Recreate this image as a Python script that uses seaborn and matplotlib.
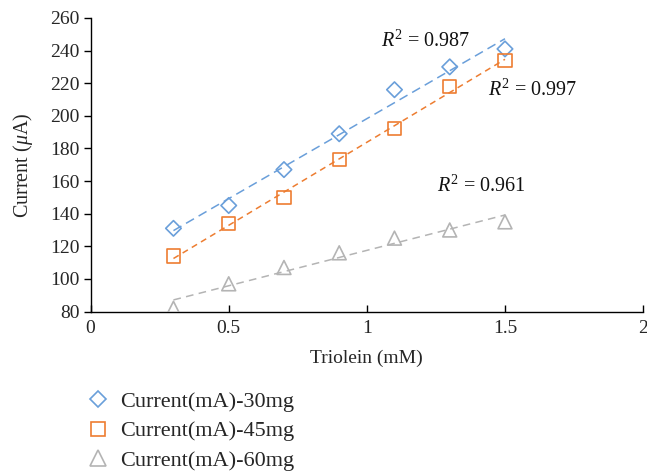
import matplotlib
matplotlib.use("Agg")
import matplotlib.pyplot as plt
from matplotlib.lines import Line2D
import seaborn as sns
import pandas as pd

triolein = [0.3, 0.5, 0.7, 0.9, 1.1, 1.3, 1.5]
current_30mg = [131, 145, 167, 189, 216, 230, 241]
current_45mg = [114, 134, 150, 173, 192, 218, 234]
current_60mg = [82, 97, 107, 116, 125, 130, 135]

labels = ["Current(mA)-30mg", "Current(mA)-45mg", "Current(mA)-60mg"]
r2_text = ["0.987", "0.997", "0.961"]
r2_pos = [(1.05, 246), (1.44, 216), (1.255, 157)]

colors = ["#6A9FDA", "#ED7D31", "#B4B4B4"]
markers = ["D", "s", "^"]
msizes = [62, 90, 100]
dashes = [(0, (6, 3.5)), (0, (4, 3)), (0, (5, 3.5))]

sns.set_style("ticks")
plt.rcParams["font.family"] = ["Liberation Serif", "DejaVu Serif"]
plt.rcParams["mathtext.fontset"] = "custom"
plt.rcParams["mathtext.rm"] = "Liberation Serif"
plt.rcParams["mathtext.it"] = "Liberation Serif:italic"

fig = plt.figure(figsize=(6.47, 4.72), dpi=100)
ax = fig.add_axes([0.140, 0.340, 0.854, 0.622])

series = [current_30mg, current_45mg, current_60mg]
for vals, lab, c, m, s, d in zip(series, labels, colors, markers, msizes, dashes):
    df = pd.DataFrame({"x": triolein, "y": vals})
    sns.regplot(data=df, x="x", y="y", ax=ax, scatter=False, ci=None,
                line_kws=dict(color=c, lw=1.1, ls=d))
    sns.scatterplot(data=df, x="x", y="y", ax=ax, marker=m, s=s,
                    facecolors="none", edgecolor=c, linewidth=1.2, zorder=3)

for (px, py), t in zip(r2_pos, r2_text):
    ax.text(px, py, r"$R^2$ = " + t, fontsize=14.5, color="#111111", va="center")

ax.set_xlim(0, 2)
ax.set_ylim(80, 260)
ax.set_xticks([0, 0.5, 1, 1.5, 2])
ax.set_xticklabels(["0", "0.5", "1", "1.5", "2"])
ax.set_yticks(range(80, 261, 20))
ax.tick_params(labelsize=14, length=5, width=1, color="black")
ax.tick_params(axis="x", direction="in", pad=6)
ax.tick_params(axis="y", direction="out", pad=3)
ax.set_xlabel("Triolein (mM)", fontsize=14, labelpad=9)
ax.set_ylabel(r"Current ($\mu$A)", fontsize=14.5, labelpad=11)
for sp in ["left", "bottom"]:
    ax.spines[sp].set_color("black")
    ax.spines[sp].set_linewidth(1)
sns.despine(ax=ax)

handles = [Line2D([], [], ls="none", marker=m, markersize=sz, markerfacecolor="none",
                  markeredgecolor=c, markeredgewidth=1.2)
           for m, c, sz in zip(markers, colors, [8.5, 10, 11])]
fig.legend(handles, labels, loc="lower left", bbox_to_anchor=(0.093, -0.04),
           frameon=False, fontsize=16, labelspacing=0.4, handletextpad=0.2,
           handlelength=1.6)

fig.savefig("out.png", dpi=100)
